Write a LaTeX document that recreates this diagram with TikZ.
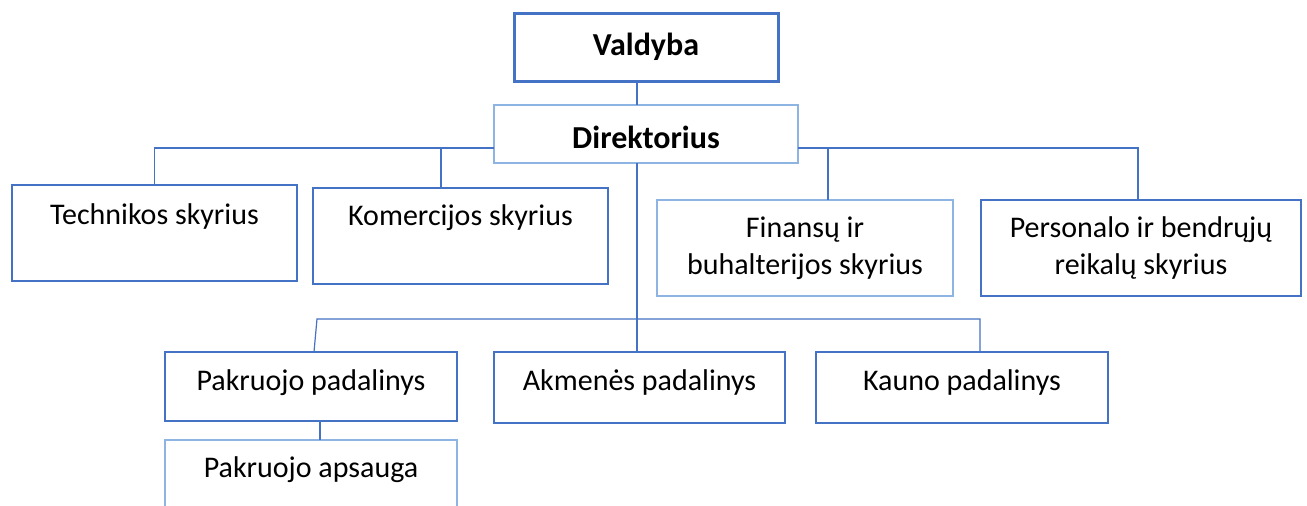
\documentclass[tikz,border=0pt]{standalone}
\usepackage{fontspec}
\setmainfont{Carlito}
\usetikzlibrary{calc}
\definecolor{dblue}{HTML}{4472C4}
\definecolor{lblue}{HTML}{8EB4E3}
\tikzset{
  box/.style={draw=dblue, line width=1.4pt, minimum width=#1, inner sep=0pt, outer sep=0pt},
  conn/.style={draw=dblue, line width=1.2pt},
  txt/.style={font=\fontsize{30}{37}\selectfont, align=center, inner sep=0pt, text=black},
  btxt/.style={font=\fontsize{32}{37}\selectfont\bfseries, inner sep=0pt, text=black},
}
\begin{document}
\begin{tikzpicture}[x=1pt,y=-1pt]
\clip (0,0) rectangle (1307,506);
\fill[white] (0,0) rectangle (1307,506);
% boxes
\node[box=264pt, minimum height=68pt, line width=3pt] (val) at (646,47) {};
\node[box=304pt, minimum height=58pt, draw=lblue, line width=1.6pt] (dir) at (646,134) {};
\node[box=285pt, minimum height=96pt] (tech) at (154.5,233) {};
\node[box=295pt, minimum height=96pt] (kom) at (460.5,236) {};
\node[box=296pt, minimum height=96pt, draw=lblue] (fin) at (805,248) {};
\node[box=320pt, minimum height=96pt] (pers) at (1141,248) {};
\node[box=292pt, minimum height=69pt] (pak) at (311,386.5) {};
\node[box=291pt, minimum height=71pt] (akm) at (639.5,387.5) {};
\node[box=292pt, minimum height=71pt] (kau) at (962,387.5) {};
\node[box=292pt, minimum height=80pt, draw=lblue] (aps) at (311,480) {};
% texts
\node[btxt] (tval) at (val.center) {Valdyba};
\node[btxt] (tdir) at ($(dir.center)+(0,3)$) {Direktorius};
\node[txt] (ttech) at ($(tech.north)+(0,31)$) {Technikos skyrius};
\node[txt] (tkom) at ($(kom.north)+(0,30)$) {Komercijos skyrius};
\node[txt] (tfin) at (fin.center) {Finansų ir\\buhalterijos skyrius};
\node[txt] (tpers) at (pers.center) {Personalo ir bendrųjų\\reikalų skyrius};
\node[txt] (tpak) at ($(pak.center)+(0,-4)$) {Pakruojo padalinys};
\node[txt] (takm) at ($(akm.center)+(0,-5)$) {Akmenės padalinys};
\node[txt] (tkau) at ($(kau.center)+(0,-5)$) {Kauno padalinys};
\node[txt] (taps) at ($(aps.north)+(0,30)$) {Pakruojo apsauga};
% bus coordinates
\coordinate (vtop) at (val.south -| 637,0);
\coordinate (dtop) at (dir.north -| 637,0);
\coordinate (dbot) at (dir.south -| 637,0);
\coordinate (bL) at (dir.west |- 0,148);
\coordinate (bR) at (dir.east |- 0,148);
\coordinate (ktop) at (kom.north -| 441,0);
\coordinate (ftop) at (fin.north -| 828,0);
\coordinate (ptop) at (pers.north -| 1138,0);
\coordinate (bus2) at (637,319);
\coordinate (pk1) at (317,319);
\coordinate (pk2) at (pak.north -| 314,0);
\coordinate (kt) at (kau.north -| 980,0);
\coordinate (ps) at (pak.south -| 320,0);
\coordinate (as) at (aps.north -| 320,0);
% connectors
\draw[conn] (vtop) -- (dtop);
\draw[conn] (bL) -| (tech.north);
\draw[conn] (ktop |- bL) -- (ktop);
\draw[conn] (bR) -- (ptop |- bR) -- (ptop);
\draw[conn] (ftop |- bR) -- (ftop);
\draw[conn] (dbot) -- (akm.north -| dbot);
\draw[conn] (pk2) -- (pk1) -- (kt |- pk1) -- (kt);
\draw[conn] (ps) -- (as);
\end{tikzpicture}
\end{document}
